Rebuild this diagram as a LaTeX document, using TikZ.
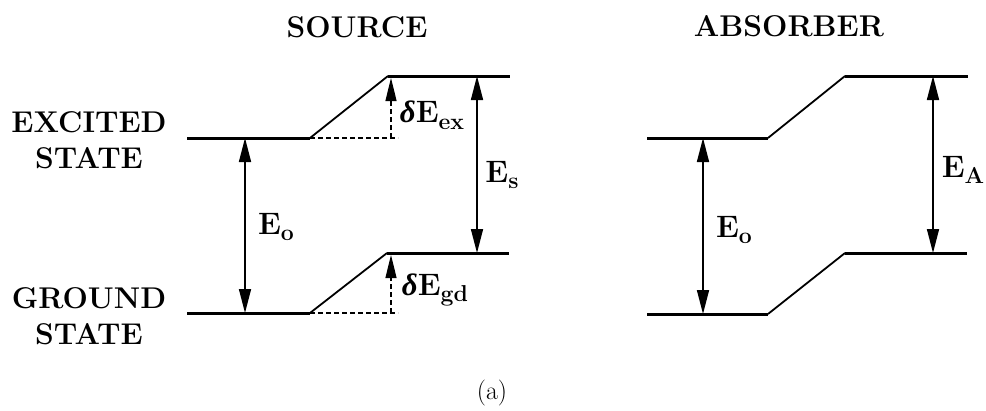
\documentclass[tikz,border=0pt]{standalone}
\usepackage{fontspec}
\newfontfamily\grkfont{Liberation Serif}
\usetikzlibrary{arrows.meta}
\newcommand\lvsub[1]{\raisebox{-0.22em}{\fontsize{23}{23}\selectfont\bfseries #1}}
\newcommand\lvdelta{{\grkfont\bfseries\itshape δ}}
\begin{document}
\begin{tikzpicture}[x=1pt,y=-1pt,
  lvl/.style={line width=3pt},
  slp/.style={line width=1.8pt},
  gapar/.style={line width=1.6pt,{Triangle[length=24pt,width=12pt]}-{Triangle[length=24pt,width=12pt]}},
  dshift/.style={line width=1.2pt,dash pattern=on 5pt off 3pt,-{Triangle[length=23pt,width=11pt]}},
  dref/.style={line width=1.2pt,dash pattern=on 5pt off 3pt},
  lbl/.style={font=\fontsize{31}{35}\selectfont\bfseries,inner sep=0pt},
  ttl/.style={font=\fontsize{30}{36}\selectfont\bfseries,align=center,inner sep=0pt}
]
\useasboundingbox (0,0) rectangle (986,410);
% source levels
\coordinate (sE1) at (187,138); \coordinate (sE2) at (310,138);
\coordinate (sE3) at (388,76);  \coordinate (sE4) at (510,76);
\coordinate (sG1) at (187,313); \coordinate (sG2) at (310,313);
\coordinate (sG3) at (387,253); \coordinate (sG4) at (509,253);
% absorber levels
\coordinate (aE1) at (647,138); \coordinate (aE2) at (768,138);
\coordinate (aE3) at (845,76);  \coordinate (aE4) at (968,76);
\coordinate (aG1) at (647,314); \coordinate (aG2) at (768,314);
\coordinate (aG3) at (845,253); \coordinate (aG4) at (967,253);
% dashed reference points
\coordinate (sEd) at (398,138); \coordinate (sGd) at (398,313);
\coordinate (sEv) at (391,138); \coordinate (sEt) at (391,78);
\coordinate (sGv) at (391,313); \coordinate (sGt) at (391,255);
% arrow ends
\coordinate (s0a) at (245,138); \coordinate (s0b) at (245,313);
\coordinate (ssa) at (477,76);  \coordinate (ssb) at (477,253);
\coordinate (a0a) at (703,138); \coordinate (a0b) at (703,314);
\coordinate (aAa) at (933,76);  \coordinate (aAb) at (933,253);

\draw[lvl] (sE1) -- (sE2); \draw[slp] (sE2) -- (sE3); \draw[lvl] (sE3) -- (sE4);
\draw[lvl] (sG1) -- (sG2); \draw[slp] (sG2) -- (sG3); \draw[lvl] (sG3) -- (sG4);
\draw[lvl] (aE1) -- (aE2); \draw[slp] (aE2) -- (aE3); \draw[lvl] (aE3) -- (aE4);
\draw[lvl] (aG1) -- (aG2); \draw[slp] (aG2) -- (aG3); \draw[lvl] (aG3) -- (aG4);

\draw[dref] (sE2) -- (sEd);
\draw[dref] (sG2) -- (sGd);
\draw[dshift] (sEv) -- (sEt);
\draw[dshift] (sGv) -- (sGt);

\draw[gapar] (s0a) -- (s0b);
\draw[gapar] (ssa) -- (ssb);
\draw[gapar] (a0a) -- (a0b);
\draw[gapar] (aAa) -- (aAb);

\node[lbl] (lE0s) at (276,227) {E\lvsub{o}};
\node[lbl] (lEs) at (502,175) {E\lvsub{s}};
\node[lbl] (lE0a) at (734,230) {E\lvsub{o}};
\node[lbl] (lEA) at (963,170) {E\lvsub{A}};
\node[lbl] (ldex) at (432,115) {\lvdelta E\lvsub{ex}};
\node[lbl] (ldgd) at (435,290) {\lvdelta E\lvsub{gd}};

\node[ttl] (tsrc) at (357,27) {SOURCE};
\node[ttl] (tabs) at (789,26) {ABSORBER};
\node[ttl] (texc) at (89,140) {EXCITED\\STATE};
\node[ttl] (tgnd) at (89,316) {GROUND\\STATE};
\node[font=\fontsize{26}{30}\selectfont,inner sep=0pt] (tcap) at (492,393) {(a)};
\end{tikzpicture}
\end{document}
